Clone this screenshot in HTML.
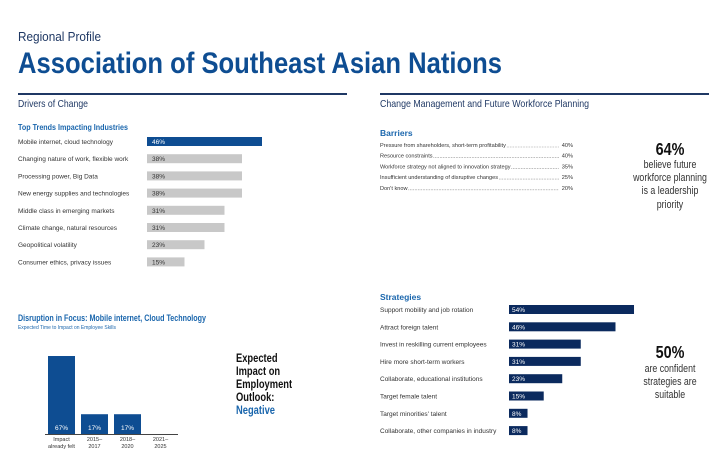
<!DOCTYPE html>
<html><head><meta charset="utf-8"><style>
html,body{margin:0;padding:0;background:#fff;width:720px;height:474px;overflow:hidden}
svg{display:block;font-family:"Liberation Sans",sans-serif}
</style></head><body>
<svg id="s" width="720" height="474" viewBox="0 0 720 474" xmlns="http://www.w3.org/2000/svg">
<text x="18" y="41" font-size="13" fill="#1f3864" textLength="83" lengthAdjust="spacingAndGlyphs">Regional Profile</text>
<text x="18" y="73" font-size="30" font-weight="bold" fill="#0e4d92" textLength="484" lengthAdjust="spacingAndGlyphs">Association of Southeast Asian Nations</text>
<rect x="18" y="93" width="329" height="2" fill="#1f3864"/>
<rect x="380" y="93" width="329" height="2" fill="#1f3864"/>
<text x="18" y="107" font-size="10.5" fill="#1f3864" textLength="70" lengthAdjust="spacingAndGlyphs">Drivers of Change</text>
<text x="380" y="107" font-size="10.5" fill="#1f3864" textLength="209" lengthAdjust="spacingAndGlyphs">Change Management and Future Workforce Planning</text>
<text x="18" y="130" font-size="8.5" font-weight="bold" fill="#1a66ad" textLength="110" lengthAdjust="spacingAndGlyphs">Top Trends Impacting Industries</text>
<g id="trends"></g>
<text x="380" y="136" font-size="8.5" font-weight="bold" fill="#1a66ad">Barriers</text>
<g id="barriers"></g>
<g text-anchor="middle" fill="#333" transform="translate(670,0) scale(0.8,1) translate(-670,0)">
<text x="670" y="155" font-size="18" font-weight="bold" fill="#111">64%</text>
<text x="670" y="168" font-size="11">believe future</text>
<text x="670" y="181" font-size="11">workforce planning</text>
<text x="670" y="194" font-size="11">is a leadership</text>
<text x="670" y="208" font-size="11">priority</text>
</g>
<text x="380" y="300" font-size="8.5" font-weight="bold" fill="#1a66ad">Strategies</text>
<g id="strategies"></g>
<g text-anchor="middle" fill="#333" transform="translate(670,0) scale(0.8,1) translate(-670,0)">
<text x="670" y="358" font-size="18" font-weight="bold" fill="#111">50%</text>
<text x="670" y="372" font-size="11">are confident</text>
<text x="670" y="385" font-size="11">strategies are</text>
<text x="670" y="398" font-size="11">suitable</text>
</g>
<text x="18" y="321" font-size="9" font-weight="bold" fill="#1a66ad" textLength="188" lengthAdjust="spacingAndGlyphs">Disruption in Focus: Mobile internet, Cloud Technology</text>
<text x="18" y="329" font-size="5.5" fill="#1a66ad" textLength="98" lengthAdjust="spacingAndGlyphs">Expected Time to Impact on Employee Skills</text>
<g id="disruption"></g>
<g font-size="12" font-weight="bold" fill="#111" transform="translate(236,0) scale(0.78,1) translate(-236,0)">
<text x="236" y="362">Expected</text>
<text x="236" y="375">Impact on</text>
<text x="236" y="388">Employment</text>
<text x="236" y="401">Outlook:</text>
<text x="236" y="414" fill="#1a66ad">Negative</text>
</g>
</svg>
<script>
const trendCats=["Mobile internet, cloud technology","Changing nature of work, flexible work","Processing power, Big Data","New energy supplies and technologies","Middle class in emerging markets","Climate change, natural resources","Geopolitical volatility","Consumer ethics, privacy issues"];
const trendVals=[46,38,38,38,31,31,23,15];
const barrierCats=["Pressure from shareholders, short-term profitability","Resource constraints","Workforce strategy not aligned to innovation strategy","Insufficient understanding of disruptive changes","Don't know"];
const barrierVals=[40,40,35,25,20];
const stratCats=["Support mobility and job rotation","Attract foreign talent","Invest in reskilling current employees","Hire more short-term workers","Collaborate, educational institutions","Target female talent","Target minorities' talent","Collaborate, other companies in industry"];
const stratVals=[54,46,31,31,23,15,8,8];
const disCats=[["Impact","already felt"],["2015–","2017"],["2018–","2020"],["2021–","2025"]];
const disVals=[67,17,17,0];
const NS="http://www.w3.org/2000/svg";
function mk(p,tag,a,txt){const e=document.createElementNS(NS,tag);for(const k in a)e.setAttribute(k,a[k]);if(txt!==undefined)e.textContent=txt;p.appendChild(e);return e;}
const tg=document.getElementById('trends');
const tx=v=>v*2.5, ty=i=>137+i*17.2;
trendCats.forEach((c,i)=>{
 const l=mk(tg,'text',{x:18,y:ty(i)+7,'font-size':6.5,fill:'#333'},c);
 
 
 const r=mk(tg,'rect',{x:147,y:ty(i),width:tx(trendVals[i]),height:9,fill:i===0?'#0e4d92':'#c8c8c8'});
 
 
 const v=mk(tg,'text',{x:152,y:ty(i)+7,'font-size':6.5,fill:i===0?'#fff':'#333'},trendVals[i]+'%');
 
 
});
const bg=document.getElementById('barriers');
barrierCats.forEach((c,i)=>{
 const y=147+i*10.7;
 const l=mk(bg,'text',{x:380,y:y,'font-size':5.6,fill:'#333'},c);
 
 
 const w=l.getComputedTextLength();
 const d=mk(bg,'line',{x1:380+w+1,x2:559,y1:y,y2:y,stroke:'#555','stroke-width':0.6,'stroke-dasharray':'0.6 1'});
 
 
 const v=mk(bg,'text',{x:573,y:y,'font-size':5.6,fill:'#333','text-anchor':'end'},barrierVals[i]+'%');
 
 
});
const sg=document.getElementById('strategies');
const sx=v=>v*2.315, sy=i=>305+i*17.3;
stratCats.forEach((c,i)=>{
 const l=mk(sg,'text',{x:380,y:sy(i)+7,'font-size':6.5,fill:'#333'},c);
 
 
 const r=mk(sg,'rect',{x:509,y:sy(i),width:sx(stratVals[i]),height:9,fill:'#0b2a5e'});
 
 
 const v=mk(sg,'text',{x:512,y:sy(i)+7,'font-size':6.5,fill:'#fff'},stratVals[i]+'%');
 
 
});
const dg=document.getElementById('disruption');
const base=434, dh=v=>v*1.164, dx=i=>48+i*33;
disCats.forEach((c,i)=>{
 if(disVals[i]>0){
  const r=mk(dg,'rect',{x:dx(i),y:base-dh(disVals[i]),width:27,height:dh(disVals[i]),fill:'#0e4d92'});
  
  
  const v=mk(dg,'text',{x:dx(i)+13.5,y:base-4,'font-size':6.5,fill:'#fff','text-anchor':'middle'},disVals[i]+'%');
  
  
 }
 c.forEach((s,j)=>{
  const t=mk(dg,'text',{x:dx(i)+13.5,y:441+j*7,'font-size':5.5,fill:'#333','text-anchor':'middle'},s);
  
  
 });
});
const ax=mk(dg,'line',{x1:45,x2:178,y1:base+0.5,y2:base+0.5,stroke:'#444','stroke-width':1});


</script>
</body></html>
